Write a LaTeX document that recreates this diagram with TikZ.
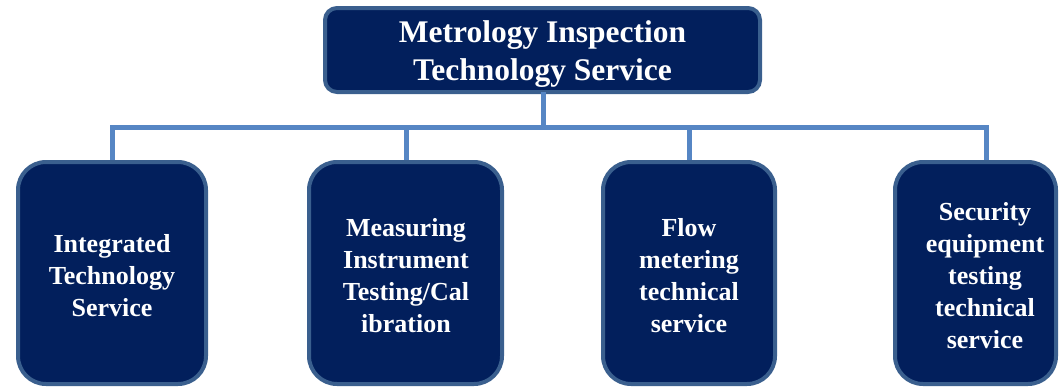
\documentclass[tikz,border=0pt]{standalone}
\usepackage{fontspec}
\setmainfont{Liberation Serif}
\definecolor{boxfill}{HTML}{021F5C}
\definecolor{boxline}{HTML}{3A5F8E}
\definecolor{connline}{HTML}{5686C4}
\tikzset{
  box/.style={draw=boxline, fill=boxfill, line width=4pt, rounded corners=28pt},
  topbox/.style={draw=boxline, fill=boxfill, line width=4pt, rounded corners=12pt},
  boxtext/.style={text=white, font=\bfseries\fontsize{26}{32}\selectfont, align=center},
  toptext/.style={text=white, font=\bfseries\fontsize{31.5}{38}\selectfont, align=center},
  conn/.style={draw=connline, line width=5pt}
}
\begin{document}
\begin{tikzpicture}[x=1pt,y=-1pt]
\useasboundingbox (0,0) rectangle (1059,386);
% boxes
\path[topbox] (325,8) rectangle (760,92);
\node[toptext] (top) at (542.5,54) {Metrology Inspection\\Technology Service};
\coordinate (topb) at (543,92);
\path[box] (18,162) rectangle (206,384);
\path[box] (309,162) rectangle (502,384);
\path[box] (603,162) rectangle (775,384);
\path[box] (895,162) rectangle (1056,384);
\node[boxtext] (c1) at (112,275.5) {Integrated\\Technology\\Service};
\node[boxtext] (c2) at (406,275.5) {Measuring\\Instrument\\Testing/Cal\\ibration};
\node[boxtext] (c3) at (689,275.5) {Flow\\metering\\technical\\service};
\node[boxtext] (c4) at (985,275.5) {Security\\equipment\\testing\\technical\\service};
% connector anchors on box tops
\coordinate (t1) at (112,160);
\coordinate (t2) at (406,160);
\coordinate (t3) at (689,160);
\coordinate (t4) at (986,160);
\coordinate (bus) at (543,127.5);
% connectors
\draw[conn] (topb) -- (topb |- bus);
\draw[conn] (t1) -- (t1 |- bus) -- (t4 |- bus) -- (t4);
\draw[conn] (t2) -- (t2 |- bus);
\draw[conn] (t3) -- (t3 |- bus);
\end{tikzpicture}
\end{document}
